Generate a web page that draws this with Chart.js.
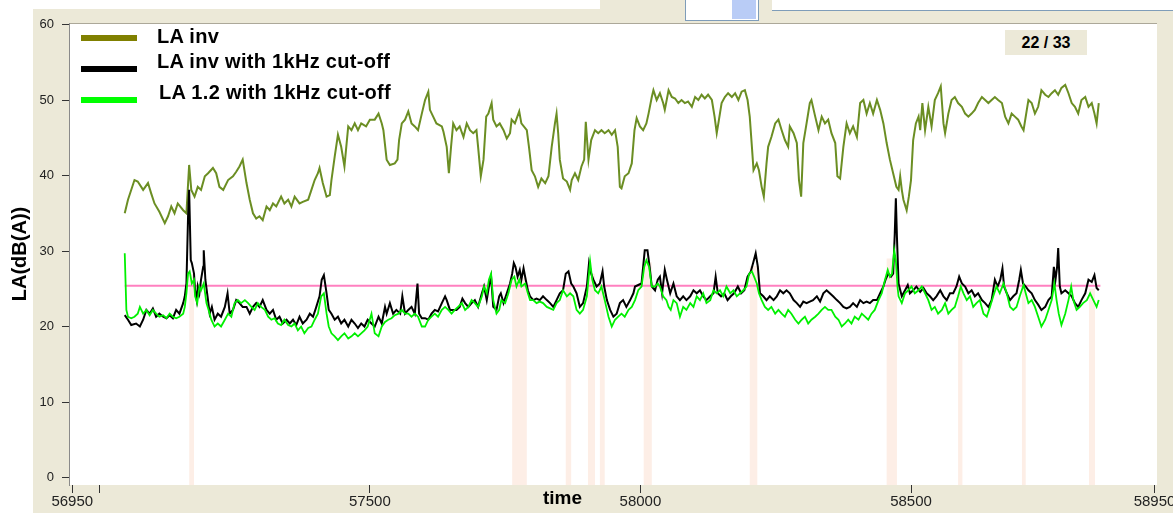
<!DOCTYPE html>
<html>
<head>
<meta charset="utf-8">
<script src="https://cdn.jsdelivr.net/npm/chart.js@4.4.1/dist/chart.umd.min.js"></script>
<style>
  html, body { margin: 0; padding: 0; background: #ffffff; }
  #wrap { position: relative; width: 1173px; height: 513px; overflow: hidden; font-family: 'Liberation Sans', Arial, sans-serif; }
  .abs { position: absolute; }
  #panel { left: 33px; top: 9px; width: 1140px; height: 504px; background: #ECE9D8; }
  #topR { left: 600px; top: 0; width: 573px; height: 9px; background: #ECE9D8; }
  #wbox { left: 685px; top: 0; width: 72px; height: 20px; background: #fff; border: 1px solid #7F9DB9; border-top: none; }
  #bsq { left: 732px; top: 0; width: 24px; height: 19px; background: #B9CCF6; }
  #wline { left: 772px; top: 0; width: 401px; height: 10px; background: #fff; border-bottom: 1px solid #7F9DB9; }
  canvas { position: absolute; left: 0; top: 0; }
  .lg { position: absolute; font-weight: bold; font-size: 20px; line-height: 20px; letter-spacing: 0.3px; color: #000; white-space: nowrap; }
  .sw { position: absolute; left: 81px; width: 56px; height: 6px; }
  #page { left: 1005px; top: 30px; width: 82px; height: 25px; background: #ECE9D8; font-size: 16px; font-weight: bold; line-height: 25px; text-align: center; color: #000; }
  #xt { left: 543px; top: 488px; font-size: 19px; line-height: 19px; font-weight: bold; color: #000; }
</style>
</head>
<body>
<div id="wrap">
  <div class="abs" id="panel"></div>
  <div class="abs" id="topR"></div>
  <div class="abs" id="wbox"></div>
  <div class="abs" id="bsq"></div>
  <div class="abs" id="wline"></div>
  <canvas id="c" width="1173" height="513"></canvas>
  <div class="sw" style="top:35px;background:#808000"></div>
  <div class="sw" style="top:66px;background:#000000"></div>
  <div class="sw" style="top:97px;background:#00FF00"></div>
  <div class="lg" style="left:157px;top:26px">LA inv</div>
  <div class="lg" style="left:157px;top:51px">LA inv with 1kHz cut-off</div>
  <div class="lg" style="left:159px;top:82px">LA 1.2 with 1kHz cut-off</div>
  <div class="abs" id="page">22 / 33</div>
  <div class="abs" id="xt">time</div>
</div>
<script>
// ---- data ----
const yTickValues = [0, 10, 20, 30, 40, 50, 60];
const xTickValues = [56950, 57000, 57500, 58000, 58500, 58950];
const xTickLabels = ['56950', '', '57500', '58000', '58500', '58950'];
const seriesNames = ['LA inv', 'LA inv with 1kHz cut-off', 'LA 1.2 with 1kHz cut-off'];

const invT = [57047,57053,57065,57071,57081,57090,57096,57102,57111,57121,57127,57133,57139,57145,57155,57161,57166,57170,57176,57182,57188,57195,57201,57210,57216,57222,57229,57238,57247,57253,57259,57265,57272,57278,57284,57290,57296,57302,57309,57315,57321,57327,57336,57342,57349,57355,57361,57370,57376,57386,57392,57398,57404,57407,57413,57420,57426,57429,57435,57441,57447,57453,57460,57466,57472,57478,57484,57493,57500,57509,57516,57522,57525,57531,57537,57546,57551,57554,57559,57565,57571,57577,57583,57589,57596,57602,57608,57611,57617,57623,57633,57636,57642,57646,57650,57654,57660,57666,57673,57679,57685,57691,57697,57700,57705,57710,57715,57719,57725,57728,57734,57740,57747,57753,57759,57762,57768,57776,57780,57790,57794,57799,57805,57811,57817,57824,57830,57836,57842,57845,57848,57851,57857,57864,57870,57873,57879,57885,57891,57896,57899,57904,57909,57916,57922,57928,57934,57941,57947,57953,57958,57962,57965,57971,57978,57984,57989,57993,57999,58005,58011,58015,58021,58024,58030,58036,58042,58045,58052,58058,58064,58070,58076,58082,58088,58095,58101,58107,58113,58119,58125,58132,58137,58141,58144,58150,58156,58162,58169,58175,58181,58187,58193,58198,58202,58206,58209,58215,58219,58224,58228,58233,58236,58242,58249,58255,58261,58267,58273,58276,58283,58289,58293,58297,58301,58307,58313,58316,58323,58329,58335,58341,58347,58353,58360,58364,58369,58375,58381,58387,58393,58400,58406,58412,58418,58424,58430,58437,58443,58449,58455,58461,58467,58473,58477,58480,58483,58486,58492,58496,58500,58504,58509,58514,58517,58521,58526,58532,58538,58544,58550,58555,58560,58563,58569,58575,58581,58587,58594,58600,58606,58612,58618,58624,58631,58637,58643,58649,58655,58661,58668,58674,58680,58686,58692,58698,58704,58708,58714,58717,58723,58729,58735,58741,58748,58754,58760,58766,58772,58778,58785,58791,58797,58803,58809,58815,58822,58828,58834,58839,58843,58847];
const invV = [35.0,36.8,39.4,39.2,38.1,39.0,37.6,36.3,35.2,33.7,34.6,35.9,35.0,36.3,35.4,35.0,41.4,38.1,37.2,38.5,38.1,39.9,40.3,41.0,40.3,38.5,38.1,39.4,39.9,40.5,41.2,42.1,39.0,36.8,35.0,34.3,34.6,34.1,35.9,35.4,36.3,35.9,37.2,36.3,36.8,35.9,37.2,36.3,36.5,36.8,38.1,39.4,40.3,41.0,39.0,37.2,37.4,39.4,42.5,45.4,43.8,41.2,46.5,46.0,46.9,46.0,46.9,46.5,47.4,47.4,48.2,46.9,46.0,42.1,41.4,41.6,42.1,44.7,46.9,47.4,48.5,46.9,46.5,46.0,48.2,50.0,51.1,48.7,47.8,46.9,46.5,45.8,43.8,40.3,43.8,46.9,46.0,46.5,45.1,46.9,46.0,45.6,46.0,43.8,39.9,42.1,47.8,48.2,49.6,47.4,46.5,46.9,46.0,44.9,45.6,47.4,46.9,48.5,46.9,46.0,43.8,40.7,39.9,38.5,39.6,39.0,39.9,43.8,46.9,48.2,45.6,42.1,39.6,39.2,38.1,39.4,40.3,39.4,41.2,42.1,47.1,42.1,44.7,46.0,45.6,46.0,45.6,46.0,45.4,46.0,43.8,38.5,38.3,39.9,40.3,41.6,46.0,47.6,46.5,46.0,46.9,48.2,50.4,51.3,50.0,50.9,49.6,48.7,51.3,50.4,50.2,49.6,50.0,49.6,49.8,49.1,50.4,50.0,50.7,50.2,50.7,50.0,47.8,45.6,46.9,49.6,50.4,50.9,50.4,50.9,50.0,51.1,51.3,50.0,47.8,43.8,40.7,41.6,40.7,38.5,37.2,41.6,43.8,45.1,46.9,47.4,46.0,44.7,43.8,46.5,45.6,44.3,39.4,37.2,44.3,46.9,49.6,50.0,47.8,46.0,47.8,46.9,47.4,45.6,44.3,39.9,39.6,43.8,46.9,45.6,46.5,45.1,49.6,50.0,48.2,49.6,48.2,50.0,48.7,46.9,44.3,42.1,40.3,38.5,38.1,39.9,38.1,36.8,35.4,37.2,39.4,44.7,46.9,47.8,46.0,49.6,46.0,49.1,46.5,50.0,50.9,51.8,46.9,45.6,48.2,50.0,50.4,49.6,49.1,48.2,47.8,48.2,48.7,49.6,50.4,50.0,49.6,50.0,50.4,50.0,49.6,47.8,46.9,48.2,47.8,47.4,46.5,46.0,48.7,50.0,49.6,48.2,49.1,51.3,50.7,50.4,50.9,51.3,50.7,51.6,52.0,50.9,49.6,49.1,48.2,50.0,50.4,49.1,49.6,48.2,46.9,49.6];

const cutT = [57047,57053,57059,57068,57075,57081,57087,57093,57099,57105,57111,57118,57124,57130,57136,57142,57148,57155,57158,57161,57164,57166,57169,57171,57175,57177,57180,57182,57185,57188,57192,57193,57196,57200,57204,57208,57213,57219,57225,57232,57237,57241,57247,57253,57259,57265,57272,57278,57284,57290,57296,57302,57309,57315,57321,57327,57333,57339,57346,57352,57358,57364,57370,57376,57383,57389,57395,57401,57407,57411,57415,57420,57424,57429,57435,57441,57447,57453,57460,57466,57472,57478,57484,57490,57496,57503,57509,57516,57522,57528,57531,57537,57543,57549,57556,57560,57565,57571,57577,57583,57588,57591,57596,57602,57608,57614,57620,57626,57633,57639,57642,57648,57654,57660,57666,57671,57676,57682,57688,57694,57700,57707,57711,57716,57720,57724,57728,57734,57739,57742,57747,57753,57759,57763,57766,57769,57773,57777,57780,57784,57788,57792,57796,57802,57808,57814,57820,57827,57833,57839,57845,57851,57857,57862,57867,57872,57876,57882,57888,57894,57901,57905,57909,57913,57919,57925,57930,57933,57938,57944,57950,57956,57962,57968,57974,57981,57987,57990,57996,58002,58008,58013,58017,58021,58027,58032,58036,58040,58045,58049,58055,58061,58067,58073,58079,58085,58092,58098,58104,58110,58116,58122,58129,58135,58139,58143,58149,58155,58161,58167,58173,58180,58186,58192,58198,58204,58209,58213,58217,58221,58227,58233,58239,58246,58252,58258,58264,58270,58276,58283,58289,58295,58301,58307,58313,58319,58326,58332,58338,58344,58350,58356,58363,58369,58375,58381,58387,58393,58400,58406,58412,58418,58424,58430,58437,58443,58449,58453,58458,58463,58467,58470,58472,58474,58477,58483,58489,58494,58498,58504,58510,58517,58523,58529,58535,58541,58547,58554,58560,58566,58572,58578,58584,58589,58594,58600,58606,58612,58618,58624,58631,58637,58643,58649,58655,58660,58665,58669,58672,58677,58683,58689,58695,58700,58703,58707,58712,58717,58723,58729,58735,58741,58748,58754,58760,58764,58767,58770,58772,58775,58778,58785,58791,58797,58803,58809,58815,58822,58828,58834,58839,58843,58847];
const cutV = [21.5,20.9,20.2,20.4,20.0,20.9,22.2,21.7,22.4,21.3,21.7,21.3,21.1,21.5,21.1,22.2,21.7,23.1,24.0,25.7,34.5,38.1,28.8,28.4,27.0,24.8,23.5,25.3,24.4,26.2,27.9,30.1,26.2,24.0,21.7,22.6,20.9,21.7,21.3,22.6,24.4,21.7,22.2,23.5,23.1,22.6,22.6,21.7,22.6,23.1,22.6,23.5,22.2,21.7,22.2,20.9,21.3,20.4,20.9,20.4,20.9,20.2,21.3,20.4,20.9,21.7,21.3,22.6,24.0,26.2,26.8,24.4,22.2,21.7,20.9,21.3,20.4,20.9,20.0,20.9,20.4,19.8,20.4,20.0,20.9,20.4,20.0,21.3,20.4,22.6,21.7,23.1,21.7,22.2,21.7,24.0,21.7,22.2,22.6,21.7,25.7,21.7,21.1,21.1,20.9,21.7,22.2,22.0,23.1,24.0,23.5,22.2,22.2,22.2,22.6,23.7,23.1,22.6,23.1,23.5,22.6,24.4,25.3,23.5,25.3,26.6,22.6,22.2,24.0,24.4,23.1,24.4,25.7,27.0,28.4,27.9,26.6,27.5,26.2,27.7,26.2,24.8,24.0,23.5,23.7,23.5,24.0,23.5,23.1,22.6,23.5,24.4,24.8,27.0,27.3,25.7,25.3,24.4,22.6,23.1,25.3,28.4,27.0,26.2,25.3,25.7,27.3,25.3,23.5,22.2,21.3,21.7,23.1,23.5,22.6,23.5,24.4,25.3,25.5,25.7,30.1,30.1,27.9,25.3,24.8,26.2,26.6,24.4,27.5,26.2,24.4,25.7,24.0,23.5,24.0,23.5,24.0,24.8,24.4,24.8,24.0,23.5,24.0,24.4,26.6,24.4,24.0,24.4,23.5,24.0,24.4,25.3,24.4,24.8,26.6,27.3,28.6,29.7,27.9,24.4,24.0,23.5,24.0,23.5,24.0,24.8,24.4,24.8,24.4,23.5,23.1,22.6,23.3,23.1,23.3,23.5,24.0,23.3,24.4,24.8,24.4,24.0,23.5,23.1,22.6,22.4,22.6,23.1,22.6,23.5,23.1,23.3,23.1,23.5,23.5,24.4,25.3,26.2,27.0,26.6,27.0,32.3,37.0,31.9,25.7,24.0,24.8,25.5,24.4,24.8,25.3,24.6,25.1,24.4,24.0,23.5,24.0,24.8,24.0,23.5,24.4,24.4,25.3,26.6,25.7,25.3,24.4,24.8,24.0,24.4,23.5,23.1,22.6,23.5,26.2,25.3,26.2,27.7,25.3,24.4,23.5,24.0,24.4,26.2,27.5,25.7,25.3,24.8,24.4,23.5,22.9,22.2,22.6,23.5,24.0,27.9,26.2,27.9,30.4,25.3,24.4,24.8,24.4,24.0,23.1,22.6,23.5,24.4,26.2,25.9,26.8,25.1,24.8];

const la12T = [57047,57050,57053,57059,57065,57071,57075,57081,57087,57093,57099,57105,57111,57118,57124,57130,57136,57142,57148,57155,57158,57161,57164,57167,57171,57175,57177,57181,57185,57188,57193,57198,57202,57207,57213,57219,57225,57232,57238,57244,57250,57256,57262,57269,57275,57281,57287,57293,57299,57306,57312,57318,57324,57330,57336,57342,57349,57355,57361,57367,57373,57379,57386,57392,57398,57404,57410,57415,57420,57424,57429,57435,57441,57447,57453,57460,57466,57472,57478,57484,57490,57496,57503,57509,57516,57522,57528,57534,57540,57546,57553,57559,57565,57571,57577,57583,57589,57596,57602,57608,57614,57620,57626,57633,57639,57645,57651,57657,57663,57670,57676,57682,57688,57694,57700,57707,57711,57716,57720,57724,57728,57734,57739,57743,57750,57756,57762,57767,57771,57776,57780,57787,57792,57796,57802,57808,57814,57820,57827,57833,57839,57845,57851,57857,57864,57870,57876,57882,57888,57894,57901,57907,57911,57916,57922,57928,57934,57941,57947,57953,57959,57965,57971,57978,57984,57990,57996,58002,58007,58011,58016,58021,58027,58032,58036,58042,58048,58052,58056,58061,58067,58073,58079,58085,58092,58098,58104,58110,58116,58122,58129,58135,58141,58147,58153,58159,58166,58172,58178,58184,58190,58196,58201,58206,58210,58215,58219,58224,58230,58236,58242,58249,58255,58261,58267,58273,58279,58286,58292,58298,58304,58310,58316,58323,58329,58335,58341,58347,58353,58360,58366,58372,58378,58384,58390,58396,58403,58409,58415,58421,58427,58433,58440,58446,58452,58457,58461,58465,58469,58472,58475,58477,58483,58489,58495,58501,58507,58514,58520,58526,58532,58538,58544,58550,58557,58563,58569,58575,58581,58587,58592,58597,58603,58609,58615,58621,58627,58634,58640,58646,58652,58658,58664,58671,58677,58683,58689,58695,58701,58708,58712,58717,58723,58729,58735,58741,58748,58754,58760,58765,58769,58773,58778,58785,58791,58796,58800,58806,58812,58818,58825,58831,58837,58843,58847];
const la12V = [29.7,22.2,21.3,21.1,21.3,21.7,22.6,21.7,22.2,21.5,22.2,21.7,21.3,21.5,21.1,21.7,21.3,21.1,21.3,21.7,22.6,24.4,27.0,27.3,25.7,26.2,24.0,23.1,25.3,24.8,25.7,23.1,22.2,20.9,20.0,20.4,20.0,20.9,21.7,21.3,23.1,23.5,23.1,23.5,23.1,22.6,22.2,23.1,22.6,22.2,21.3,20.9,21.1,20.4,20.2,20.9,20.2,20.0,20.4,19.5,20.0,19.1,19.8,20.0,20.9,21.7,24.0,24.4,21.7,20.0,19.1,18.7,18.2,18.7,19.1,18.4,18.7,19.1,18.7,19.1,19.5,20.0,21.7,19.1,18.7,20.0,20.6,20.9,21.1,21.5,21.7,22.2,21.7,21.7,21.3,21.7,21.3,20.0,20.0,20.9,21.3,21.7,21.3,22.2,22.6,22.2,21.7,22.2,22.6,23.1,22.2,22.6,23.5,23.1,22.6,24.0,25.3,24.4,26.2,27.0,23.5,21.7,22.2,23.5,23.1,24.4,26.2,26.6,25.3,26.2,25.3,25.7,24.4,23.5,23.5,23.1,23.3,23.1,22.6,22.4,22.2,23.1,23.5,24.8,24.0,24.4,24.0,22.2,21.7,22.2,24.0,28.6,26.2,24.8,24.4,25.3,23.5,21.3,20.0,20.9,21.3,21.7,21.3,22.2,22.6,23.5,24.8,25.3,27.9,28.8,27.9,25.3,25.3,25.7,25.3,24.0,23.5,22.6,22.2,23.5,23.1,21.3,22.6,22.2,23.1,22.6,24.0,23.5,24.4,23.1,23.5,24.8,24.4,24.8,24.0,25.3,24.4,24.8,24.0,24.4,24.8,25.3,27.0,27.3,26.6,25.7,24.4,23.5,22.6,22.2,22.6,21.7,22.2,21.7,21.3,22.2,21.7,20.9,20.4,20.9,21.3,20.4,20.9,21.3,21.7,22.2,22.6,22.2,22.2,21.3,20.9,20.0,20.4,20.9,20.4,21.3,20.9,21.7,21.3,20.9,21.7,22.2,23.5,24.4,26.2,27.5,26.6,27.0,30.1,28.8,25.3,24.0,23.1,24.4,24.8,25.3,24.4,24.8,25.3,24.4,23.5,22.2,22.6,21.7,22.2,23.1,21.7,22.2,22.6,24.0,25.3,24.4,23.5,24.0,22.6,23.1,23.5,21.7,21.3,22.6,24.0,25.3,24.4,25.7,24.4,22.6,22.2,22.6,24.0,25.5,24.4,23.1,23.5,22.6,21.3,20.0,20.9,22.2,23.5,25.7,23.5,21.7,20.2,21.7,23.5,25.3,23.5,22.2,22.6,23.1,23.5,24.4,23.5,22.6,23.5];

// reference level (pink line)
const refT = [57047, 58850];
const refV = [25.4, 25.4];

// shaded (flagged) time intervals
const bandStart = [57166, 57763, 57862, 57903, 57925, 58006, 58202, 58455, 58587, 58705, 58829];
const bandEnd   = [57175, 57790, 57872, 57916, 57934, 58021, 58216, 58474, 58595, 58712, 58840];
const bandTop   = [27.0, 26.5, 25.5, 27.0, 25.0, 28.5, 28.0, 29.0, 25.0, 25.0, 25.0];

// ---- chart ----
const X_MIN = 56944, X_MAX = 58954.6, Y_MIN = -0.99, Y_MAX = 60.2;

const pts = (t, v) => t.map((x, i) => ({ x: x, y: v[i] }));
const bandPts = [];
bandStart.forEach((s, i) => {
  bandPts.push({ x: s, y: Y_MIN }, { x: s, y: bandTop[i] }, { x: bandEnd[i], y: bandTop[i] }, { x: bandEnd[i], y: Y_MIN });
});

const frame = {
  id: 'frame',
  beforeDraw(c) {
    const { ctx, chartArea: a } = c;
    ctx.save();
    ctx.fillStyle = '#ffffff';
    ctx.fillRect(a.left, a.top, a.right - a.left, a.bottom - a.top);
    ctx.strokeStyle = '#ACA899';
    ctx.lineWidth = 1;
    ctx.beginPath();
    ctx.moveTo(a.left, a.top + 0.5);
    ctx.lineTo(a.right, a.top + 0.5);
    ctx.stroke();
    ctx.restore();
  }
};

const tickFont = { family: "'Liberation Sans', Arial, sans-serif", size: 13 };

new Chart(document.getElementById('c'), {
  type: 'line',
  data: {
    datasets: [
      { label: seriesNames[2], data: pts(la12T, la12V), borderColor: '#00F000', borderWidth: 1.8, pointRadius: 0, tension: 0, fill: false, order: 0 },
      { label: seriesNames[1], data: pts(cutT, cutV), borderColor: '#000000', borderWidth: 2, pointRadius: 0, tension: 0, fill: false, order: 1 },
      { label: seriesNames[0], data: pts(invT, invV), borderColor: '#6B8E23', borderWidth: 2, pointRadius: 0, tension: 0, fill: false, order: 2 },
      { label: 'ref', data: pts(refT, refV), borderColor: '#FF80C0', borderWidth: 2, pointRadius: 0, tension: 0, fill: false, order: 3 },
      { label: 'flag', data: bandPts, borderWidth: 0, borderColor: 'rgba(0,0,0,0)', backgroundColor: '#FDEEE6', pointRadius: 0, tension: 0, fill: 'start', order: 4 }
    ]
  },
  options: {
    responsive: false,
    animation: false,
    events: [],
    layout: { padding: { left: 0, right: 16, top: 23, bottom: 0 } },
    plugins: { legend: { display: false }, tooltip: { enabled: false }, title: { display: false } },
    scales: {
      x: {
        type: 'linear', min: X_MIN, max: X_MAX,
        afterBuildTicks: s => { s.ticks = xTickValues.map(v => ({ value: v })); },
        afterFit: s => { s.height = 28; s.paddingLeft = 0; s.paddingRight = 0; },
        ticks: { autoSkip: false, maxRotation: 0, minRotation: 0, padding: 0, color: '#222', font: { family: "'Liberation Sans', Arial, sans-serif", size: 15 },
                 callback: (v, i) => xTickLabels[i] },
        grid: { drawOnChartArea: false, drawTicks: true, tickLength: 8, color: '#333', lineWidth: 1 },
        border: { display: false }
      },
      y: {
        type: 'linear', min: Y_MIN, max: Y_MAX,
        afterBuildTicks: s => { s.ticks = yTickValues.map(v => ({ value: v })); },
        afterFit: s => { s.width = 69; },
        ticks: { padding: 8, color: '#222', font: tickFont, callback: v => String(v) },
        grid: { drawOnChartArea: false, drawTicks: true, tickLength: 7, color: '#333', lineWidth: 1 },
        border: { display: true, color: '#8A8A8A', width: 1 },
        title: { display: true, text: 'LA(dB(A))', color: '#000', font: { family: "'Liberation Sans', Arial, sans-serif", size: 20, weight: 'bold' }, padding: { top: 8, bottom: 0 } }
      }
    }
  },
  plugins: [frame]
});
</script>
</body>
</html>
